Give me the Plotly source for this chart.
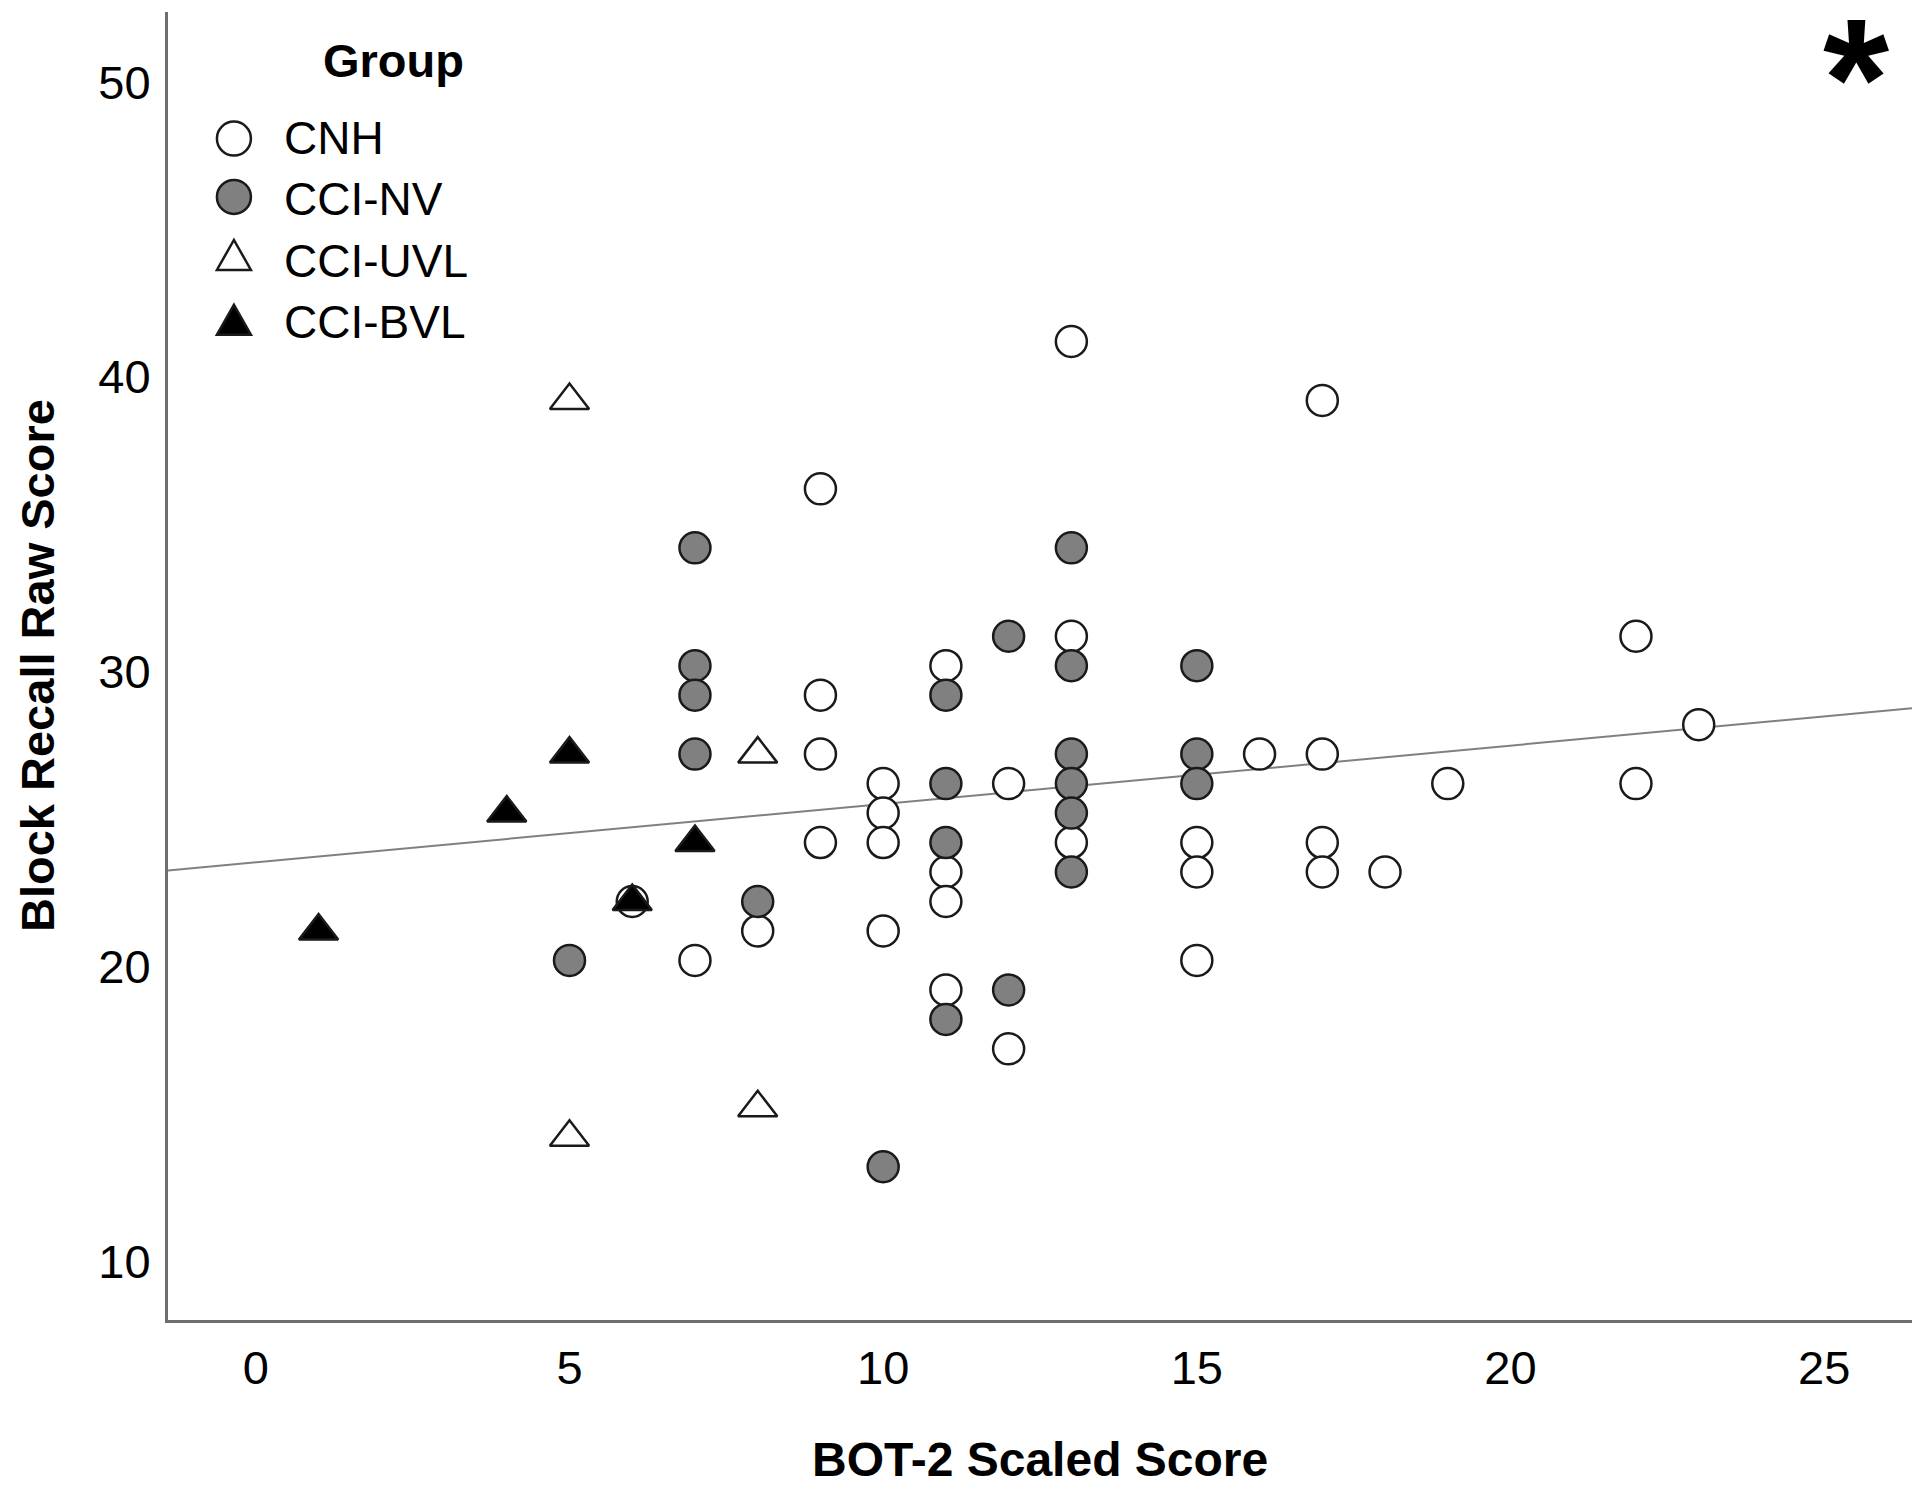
import plotly.graph_objects as go

# BOT-2 scaled score (x) vs block recall raw score (y), by group
cnh_x = [13, 17, 9, 13, 22, 11, 9, 9, 16, 17, 23, 10, 12, 19, 22, 10, 9, 10, 13, 15, 17,
         11, 15, 17, 18, 11, 6, 8, 10, 7, 15, 11, 12]
cnh_y = [41, 39, 36, 31, 31, 30, 29, 27, 27, 27, 28, 26, 26, 26, 26, 25, 24, 24, 24, 24, 24,
         23, 23, 23, 23, 22, 22, 21, 21, 20, 20, 19, 17]

nv_x = [7, 13, 12, 7, 13, 15, 7, 11, 7, 13, 15, 11, 13, 15, 13, 11, 13, 8, 5, 12, 11, 10]
nv_y = [34, 34, 31, 30, 30, 30, 29, 29, 27, 27, 27, 26, 26, 26, 25, 24, 23, 22, 20, 19, 18, 13]

uvl_x = [5, 8, 8, 5]
uvl_y = [39, 27, 15, 14]

bvl_x = [5, 4, 7, 6, 1]
bvl_y = [27, 25, 24, 22, 21]

# fit line at total
fit_intercept = 23.33
fit_slope = 0.198

x_range = [-1.40, 26.40]
y_range = [7.80, 52.18]

FONT = "Liberation Sans, Arial, sans-serif"
EDGE = "#1a1a1a"

fig = go.Figure()

fig.add_trace(go.Scatter(
    x=x_range, y=[fit_intercept + fit_slope * v for v in x_range],
    mode="lines", line=dict(color="#808080", width=2), showlegend=False,
))

groups = [
    ("CNH", cnh_x, cnh_y, "circle", "white", 31),
    ("CCI-NV", nv_x, nv_y, "circle", "#808080", 31),
    ("CCI-UVL", uvl_x, uvl_y, "triangle-up", "white", 34),
    ("CCI-BVL", bvl_x, bvl_y, "triangle-up", "black", 34),
]
for name, gx, gy, sym, fill, size in groups:
    fig.add_trace(go.Scatter(
        x=gx, y=gy, mode="markers", name=name, showlegend=False,
        marker=dict(symbol=sym, size=size, color=fill, line=dict(color=EDGE, width=2.5)),
    ))

# hand-drawn legend (SPSS style, large glyphs)
leg_x = 0.0378
leg_marker_y = [0.9032, 0.8586, 0.8135, 0.7640]
leg_text_y = [0.9033, 0.8571, 0.8093, 0.7627]
shapes = []
for (name, _, _, sym, fill, _), my in zip(groups, leg_marker_y):
    common = dict(xref="paper", yref="paper", xsizemode="pixel", ysizemode="pixel",
                  xanchor=leg_x, yanchor=my, fillcolor=fill,
                  line=dict(color=EDGE, width=2.5))
    if sym == "circle":
        shapes.append(dict(type="circle", x0=-17, x1=17, y0=-17, y1=17, **common))
    else:
        shapes.append(dict(type="path", path="M-17,-14 L17,-14 L0,16 Z", **common))

annotations = [
    dict(text="<b>Group</b>", x=0.1295, y=0.9633, xref="paper", yref="paper",
         xanchor="center", yanchor="middle", showarrow=False,
         font=dict(family=FONT, size=47, color="black")),
    dict(text="<b>BOT-2 Scaled Score</b>", x=0.5, y=-0.1067, xref="paper", yref="paper",
         xanchor="center", yanchor="middle", showarrow=False,
         font=dict(family=FONT, size=48, color="black")),
    dict(text="<b>Block Recall Raw Score</b>", x=-0.0751, y=0.5, xref="paper", yref="paper",
         xanchor="center", yanchor="middle", textangle=-90, showarrow=False,
         font=dict(family=FONT, size=47, color="black")),
    dict(text="<b>*</b>", x=0.968, y=0.9354, xref="paper", yref="paper",
         xanchor="center", yanchor="middle", showarrow=False,
         height=155, valign="bottom",
         font=dict(family=FONT, size=170, color="black")),
]
for (name, *_), ty in zip(groups, leg_text_y):
    annotations.append(dict(
        text=name, x=0.0653, y=ty, xref="paper", yref="paper",
        xanchor="left", yanchor="middle", showarrow=False,
        font=dict(family=FONT, size=46, color="black"),
    ))

axis_common = dict(showgrid=False, zeroline=False, showline=True, linecolor="#6e6e6e",
                   linewidth=3, ticks="", tickfont=dict(family=FONT, size=47, color="black"))

fig.update_layout(
    width=1904, height=1482,
    margin=dict(l=160, r=0, t=4, b=170),
    plot_bgcolor="white", paper_bgcolor="white",
    xaxis=dict(range=x_range, tickvals=[0, 5, 10, 15, 20, 25], ticklabelstandoff=5,
               **axis_common),
    yaxis=dict(range=y_range, tickvals=[10, 20, 30, 40, 50], ticklabelstandoff=5,
               ticklabelshift=6, **axis_common),
    shapes=shapes,
    annotations=annotations,
)

fig.write_html("out.html")
